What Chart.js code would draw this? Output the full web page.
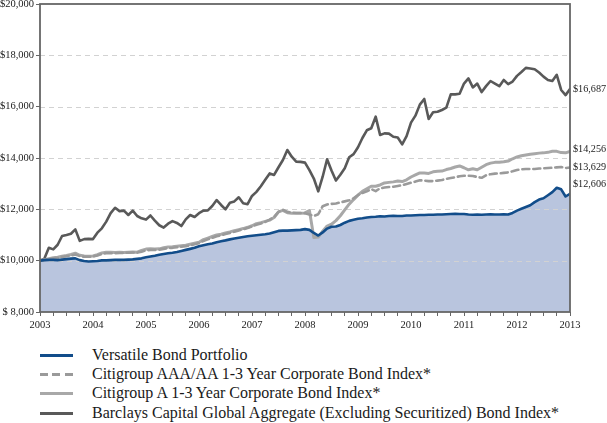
<!DOCTYPE html>
<html>
<head>
<meta charset="utf-8">
<script src="https://cdn.jsdelivr.net/npm/chart.js@4.4.1/dist/chart.umd.min.js"></script>
<style>
  html, body { margin: 0; padding: 0; background: #fff; }
  #wrap { position: relative; width: 607px; height: 423px; overflow: hidden; }
  #c { position: absolute; left: 0; top: 0; }
  .leg { position: absolute; left: 0; font-family: 'Liberation Serif', 'Times New Roman', serif; font-size: 16px; color: #1a1a1a; white-space: nowrap; }
  .leg .sw { position: absolute; left: 40px; width: 33px; height: 3px; }
  .leg .tx { position: absolute; left: 92px; line-height: 18px; top: -9px; }
</style>
</head>
<body>
<div id="wrap">
  <canvas id="c" width="607" height="340"></canvas>
  <div id="legend"></div>
</div>
<script>
// ---- data (monthly, 2003 -> 2013) ----
const yearLabels = ['2003','2004','2005','2006','2007','2008','2009','2010','2011','2012','2013'];
const yTickLabels = ['$ 8,000','$10,000','$12,000','$14,000','$16,000','$18,000','$20,000'];
const seriesNames = [
  'Versatile Bond Portfolio',
  'Citigroup AAA/AA 1-3 Year Corporate Bond Index*',
  'Citigroup A 1-3 Year Corporate Bond Index*',
  'Barclays Capital Global Aggregate (Excluding Securitized) Bond Index*'
];
const endLabels = ['$12,606','$13,629','$14,256','$16,687'];

const versatile = [
 10000,10020,10030,10030,10020,10040,10060,10080,10090,10020,
 9990,9970,9980,9990,10010,10010,10020,10030,10030,10030,
 10040,10050,10070,10090,10130,10160,10190,10230,10260,10290,
 10310,10340,10380,10420,10460,10500,10560,10600,10640,10670,
 10720,10760,10790,10830,10860,10890,10920,10950,10970,10990,
 11010,11030,11060,11110,11160,11170,11170,11180,11190,11200,
 11230,11200,11080,10980,11100,11250,11320,11330,11390,11480,
 11550,11590,11630,11650,11680,11700,11710,11730,11720,11740,
 11750,11740,11740,11760,11760,11770,11780,11780,11790,11790,
 11800,11800,11810,11820,11830,11820,11820,11800,11790,11800,
 11790,11800,11810,11800,11800,11810,11800,11860,11950,12020,
 12090,12160,12280,12380,12430,12550,12670,12840,12780,12500,
 12606];

const citiAAA = [
 10000,10030,10060,10090,10110,10140,10170,10200,10240,10180,
 10150,10150,10160,10200,10260,10290,10290,10290,10300,10300,
 10310,10320,10310,10350,10400,10420,10420,10430,10460,10490,
 10500,10520,10540,10560,10600,10640,10680,10770,10830,10890,
 10950,10990,11040,11080,11130,11180,11220,11270,11330,11400,
 11450,11510,11600,11700,11900,11980,11900,11870,11860,11860,
 11850,11800,11740,11810,12120,12190,12210,12230,12270,12310,
 12350,12430,12560,12640,12700,12790,12710,12820,12850,12870,
 12880,12910,12940,12990,13040,13080,13130,13120,13100,13100,
 13120,13140,13190,13220,13250,13290,13310,13310,13300,13260,
 13230,13330,13370,13390,13400,13420,13440,13480,13530,13560,
 13570,13570,13570,13590,13600,13610,13620,13635,13650,13610,
 13629];

const citiA = [
 10000,10040,10080,10110,10130,10170,10200,10240,10290,10210,
 10180,10170,10180,10230,10300,10330,10330,10320,10330,10320,
 10330,10340,10330,10400,10450,10460,10450,10460,10500,10530,
 10540,10560,10580,10600,10640,10680,10720,10820,10880,10940,
 11000,11030,11080,11120,11170,11210,11250,11300,11360,11440,
 11480,11530,11580,11680,11900,11960,11870,11850,11845,11845,
 11860,11950,10900,10920,11150,11350,11420,11560,11750,11980,
 12200,12380,12550,12700,12800,12900,12900,12950,13030,13050,
 13070,13100,13080,13150,13260,13340,13420,13420,13400,13460,
 13480,13490,13550,13590,13650,13690,13620,13540,13580,13540,
 13640,13740,13800,13830,13830,13850,13880,13970,14040,14090,
 14120,14150,14170,14190,14200,14220,14260,14260,14210,14200,
 14256];

const barclays = [
 10000,10080,10500,10440,10620,10960,11000,11050,11220,10770,
 10840,10850,10840,11090,11260,11520,11850,12060,11930,11950,
 11780,11950,11740,11650,11600,11760,11560,11380,11290,11440,
 11540,11470,11350,11610,11780,11700,11850,11950,11960,12130,
 12360,12170,12000,12260,12310,12470,12240,12200,12520,12680,
 12900,13150,13400,13340,13640,13920,14310,14050,13860,13850,
 13820,13530,13200,12700,13270,13950,13510,13120,13350,13600,
 14030,14150,14420,14780,15080,15160,15610,14900,14960,14950,
 14830,14800,14530,14850,15380,15650,16080,16300,15520,15780,
 15800,15870,15960,16480,16480,16500,16900,17100,16750,16900,
 16570,16800,17000,16900,16800,17040,16880,16980,17200,17350,
 17510,17490,17460,17330,17170,17040,17000,17240,16650,16450,
 16687];

// ---- styles ----
const colors = ['#124d8a', '#9a9a9a', '#a8a8a8', '#595959'];
const widths = [2.6, 2.6, 3, 2.6];
const dashes = [[], [7, 4], [], []];
const fillColor = '#b9c5de';
const labelOffsets = [-9, 0, -2, 0];

Chart.defaults.font.family = "'Liberation Serif', 'Times New Roman', serif";
Chart.defaults.font.size = 10.5;
Chart.defaults.color = '#222';

const toPts = arr => arr.map((v, i) => ({ x: i, y: v }));
const allSeries = [versatile, citiAAA, citiA, barclays];

const overlay = {
  id: 'overlay',
  beforeDatasetsDraw(chart) {
    const { ctx, chartArea: a } = chart;
    const ys = chart.scales.y;
    ctx.save();
    ctx.strokeStyle = '#d2d2d2';
    ctx.lineWidth = 1;
    ctx.setLineDash([5, 4]);
    ys.ticks.forEach(t => {
      if (t.value <= ys.min || t.value >= ys.max) return;
      const y = Math.round(ys.getPixelForValue(t.value)) + 0.5;
      ctx.beginPath(); ctx.moveTo(a.left, y); ctx.lineTo(a.right, y); ctx.stroke();
    });
    ctx.restore();
  },
  afterDatasetsDraw(chart) {
    const { ctx, chartArea: a } = chart;
    ctx.save();
    ctx.strokeStyle = '#666';
    ctx.lineWidth = 1.8;
    ctx.strokeRect(a.left, a.top, a.right - a.left, a.bottom - a.top);
    ctx.restore();
  },
  afterDraw(chart) {
    const { ctx, chartArea: a } = chart;
    const ys = chart.scales.y;
    ctx.save();
    ctx.font = "10.2px 'Liberation Serif', 'Times New Roman', serif";
    ctx.fillStyle = '#222';
    ctx.textAlign = 'left';
    ctx.textBaseline = 'middle';
    allSeries.forEach((s, k) => {
      const y = ys.getPixelForValue(s[s.length - 1]) + labelOffsets[k];
      ctx.fillText(endLabels[k], a.right + 3, y);
    });
    ctx.restore();
  }
};

new Chart(document.getElementById('c'), {
  type: 'line',
  data: {
    datasets: [
      { data: toPts(versatile), borderColor: colors[0], borderWidth: widths[0], fill: 'start', backgroundColor: fillColor, order: 0 },
      { data: toPts(citiAAA), borderColor: colors[1], borderWidth: widths[1], borderDash: dashes[1], fill: false, order: 1 },
      { data: toPts(citiA), borderColor: colors[2], borderWidth: widths[2], fill: false, order: 2 },
      { data: toPts(barclays), borderColor: colors[3], borderWidth: widths[3], fill: false, order: 3 }
    ]
  },
  options: {
    responsive: false,
    animation: false,
    events: [],
    layout: { padding: { top: 4, right: 37, left: 0, bottom: 0 } },
    elements: { point: { radius: 0 }, line: { tension: 0, borderJoinStyle: 'round', borderCapStyle: 'round' } },
    plugins: { legend: { display: false }, tooltip: { enabled: false }, filler: { drawTime: 'beforeDatasetsDraw' } },
    scales: {
      x: {
        type: 'linear', min: 0, max: 120,
        border: { display: false },
        grid: { drawOnChartArea: false, drawTicks: true, tickLength: 4, tickColor: '#666', tickWidth: 1 },
        ticks: {
          stepSize: 3, autoSkip: false, maxRotation: 0, padding: 3, maxTicksLimit: 100,
          callback: v => (v % 12 === 0 ? yearLabels[v / 12] : '')
        },
        afterFit: s => { s.height = 28; s.paddingLeft = 0; s.paddingRight = 0; }
      },
      y: {
        min: 8000, max: 20000,
        border: { display: false },
        grid: { drawOnChartArea: false, drawTicks: true, tickLength: 4, tickColor: '#666', tickWidth: 1 },
        ticks: { stepSize: 2000, padding: 2, callback: (v, i) => yTickLabels[i] },
        afterFit: s => { s.width = 40; s.paddingTop = 0; s.paddingBottom = 0; }
      }
    }
  },
  plugins: [overlay]
});

// ---- legend (HTML text) ----
const legendRows = [355, 374, 393, 413];
const legendEl = document.getElementById('legend');
seriesNames.forEach((name, k) => {
  const row = document.createElement('div');
  row.className = 'leg';
  row.style.top = legendRows[k] + 'px';
  const sw = document.createElement('div');
  sw.className = 'sw';
  sw.style.top = '-1px';
  if (dashes[k].length) {
    sw.style.background = `repeating-linear-gradient(to right, ${colors[k]} 0 8px, transparent 8px 12.5px)`;
  } else {
    sw.style.background = colors[k];
  }
  const tx = document.createElement('div');
  tx.className = 'tx';
  tx.textContent = name;
  row.appendChild(sw); row.appendChild(tx);
  legendEl.appendChild(row);
});
</script>
</body>
</html>
